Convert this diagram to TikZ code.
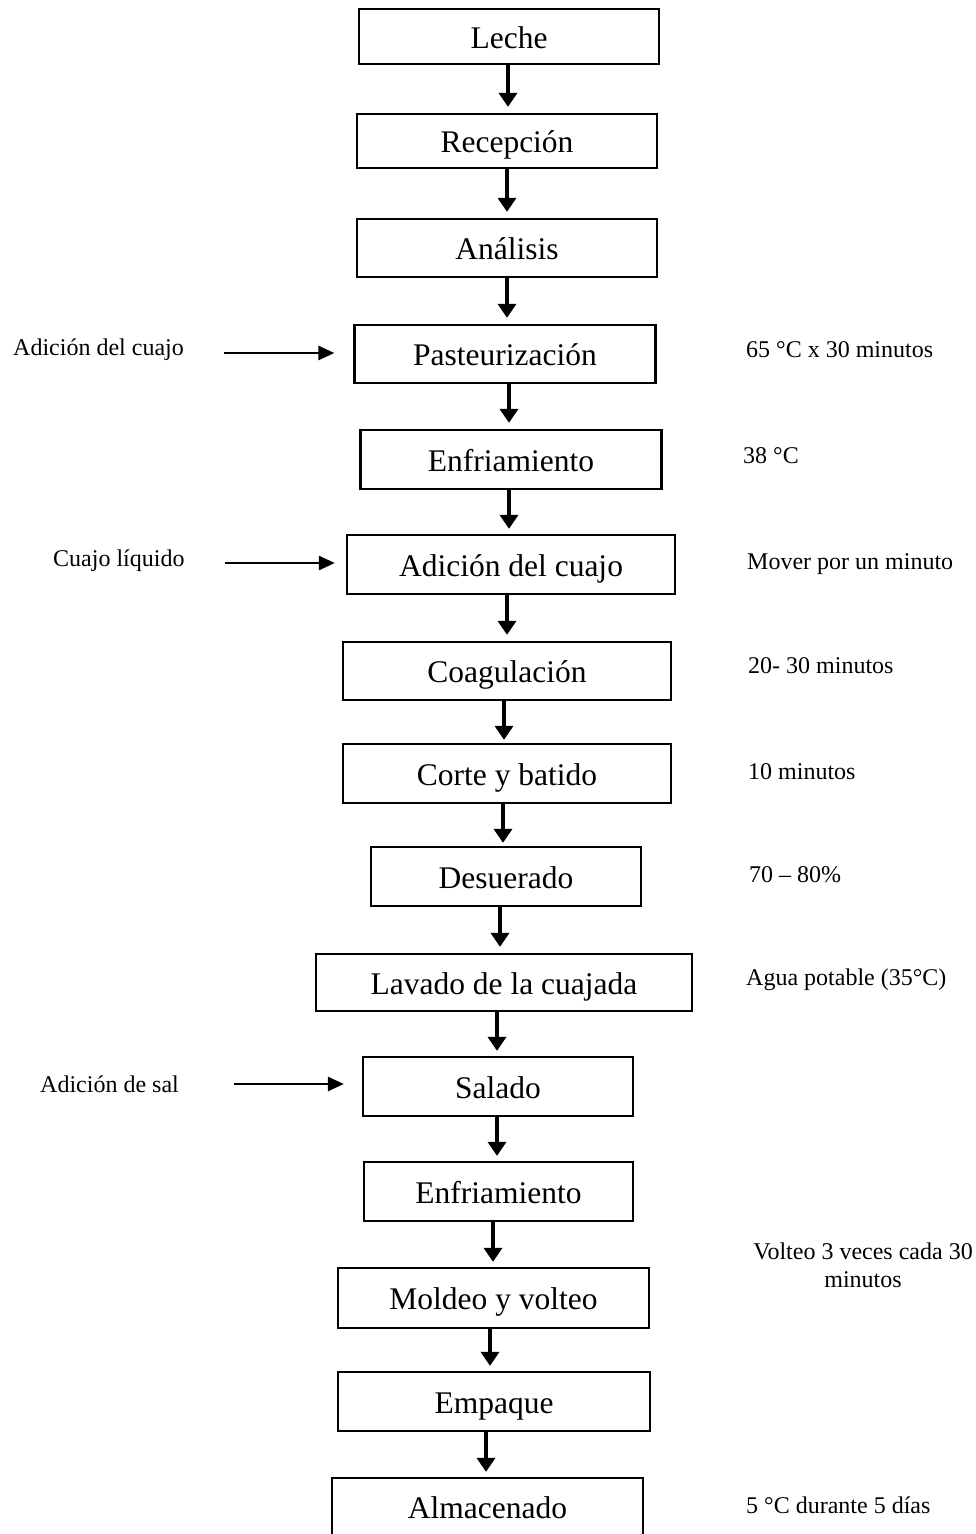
\documentclass[tikz,border=0pt]{standalone}
\usepackage{fontspec}
\setmainfont{Liberation Serif}
\usetikzlibrary{arrows.meta}
\tikzset{
  stepbox/.style={draw, line width=2.3pt, rectangle, inner sep=0pt, text height=25pt, text depth=2pt,
    font=\fontsize{31.5}{36}\selectfont},
  sidetext/.style={inner sep=0pt, anchor=base west, font=\fontsize{24}{28}\selectfont},
  varr/.style={line width=4.3pt, -{Triangle[width=18pt,length=14pt]}},
  harr/.style={line width=2.8pt, -{Triangle[width=14pt,length=16pt]}}
}
\begin{document}
\begin{tikzpicture}[x=1pt,y=-1pt]
\useasboundingbox (0,0) rectangle (976,1534);
\clip (0,0) rectangle (976,1534);
% process boxes
\node[stepbox, minimum width=300pt, minimum height=55pt] (leche) at (509,36.5) {Leche};
\node[stepbox, minimum width=300pt, minimum height=54pt] (recep) at (507,141) {Recepción};
\node[stepbox, minimum width=300pt, minimum height=58pt] (anal) at (507,248) {Análisis};
\node[stepbox, minimum width=301pt, minimum height=58pt] (past) at (505,354) {Pasteurización};
\node[stepbox, minimum width=301pt, minimum height=59pt] (enfr) at (511,459.5) {Enfriamiento};
\node[stepbox, minimum width=328pt, minimum height=59pt] (adic) at (511,564.5) {Adición del cuajo};
\node[stepbox, minimum width=328pt, minimum height=58pt] (coag) at (507,671) {Coagulación};
\node[stepbox, minimum width=328pt, minimum height=59pt] (corte) at (507,773.5) {Corte y batido};
\node[stepbox, minimum width=270pt, minimum height=59pt] (desu) at (506,876.5) {Desuerado};
\node[stepbox, minimum width=376pt, minimum height=57pt] (lav) at (504,982.5) {Lavado de la cuajada};
\node[stepbox, minimum width=270pt, minimum height=59pt] (sal) at (498,1086.5) {Salado};
\node[stepbox, minimum width=269pt, minimum height=59pt] (enfb) at (498.5,1191.5) {Enfriamiento};
\node[stepbox, minimum width=311pt, minimum height=60pt] (mold) at (493.5,1298) {Moldeo y volteo};
\node[stepbox, minimum width=312pt, minimum height=59pt] (emp) at (494,1401.5) {Empaque};
\node[stepbox, minimum width=311pt, minimum height=58pt] (alm) at (487.5,1507) {Almacenado};
% side texts
\node[sidetext] (in1) at (13,355) {Adición del cuajo};
\node[sidetext] (in2) at (53,566) {Cuajo líquido};
\node[sidetext] (in3) at (40,1092) {Adición de sal};
\node[sidetext] (n1) at (746,357) {65 °C x 30 minutos};
\node[sidetext] (n2) at (743,463) {38 °C};
\node[sidetext] (n3) at (747,569) {Mover por un minuto};
\node[sidetext] (n4) at (748,673) {20- 30 minutos};
\node[sidetext] (n5) at (748,779) {10 minutos};
\node[sidetext] (n6) at (749,882) {70 – 80\%};
\node[sidetext] (n7) at (746,985) {Agua potable (35°C)};
\node[inner sep=0pt, anchor=base, align=center, font=\fontsize{24}{28}\selectfont] (n8) at (863,1287) {Volteo 3 veces cada 30\\minutos};
\node[sidetext] (n9) at (746,1513) {5 °C durante 5 días};
% vertical arrows
\draw[varr] ([xshift=-1pt]leche.south) -- ([xshift=1pt,yshift=6pt]recep.north);
\draw[varr] ([xshift=0pt]recep.south) -- ([xshift=0pt,yshift=6pt]anal.north);
\draw[varr] ([xshift=0pt]anal.south) -- ([xshift=2pt,yshift=6pt]past.north);
\draw[varr] ([xshift=4pt]past.south) -- ([xshift=-2pt,yshift=6pt]enfr.north);
\draw[varr] ([xshift=-2pt]enfr.south) -- ([xshift=-2pt,yshift=5pt]adic.north);
\draw[varr] ([xshift=-4pt]adic.south) -- ([xshift=0pt,yshift=6pt]coag.north);
\draw[varr] ([xshift=-3pt]coag.south) -- ([xshift=-3pt,yshift=3pt]corte.north);
\draw[varr] ([xshift=-4pt]corte.south) -- ([xshift=-3pt,yshift=3pt]desu.north);
\draw[varr] ([xshift=-6pt]desu.south) -- ([xshift=-4pt,yshift=6pt]lav.north);
\draw[varr] ([xshift=-7pt]lav.south) -- ([xshift=-1pt,yshift=5pt]sal.north);
\draw[varr] ([xshift=-1pt]sal.south) -- ([xshift=-1.5pt,yshift=5pt]enfb.north);
\draw[varr] ([xshift=-5.5pt]enfb.south) -- ([xshift=-0.5pt,yshift=5pt]mold.north);
\draw[varr] ([xshift=-3.5pt]mold.south) -- ([xshift=-4pt,yshift=5pt]emp.north);
\draw[varr] ([xshift=-8pt]emp.south) -- ([xshift=-1.5pt,yshift=5pt]alm.north);
% input arrows
\draw[harr] ([xshift=-129pt,yshift=1pt]past.west) -- ([xshift=-19pt,yshift=1pt]past.west);
\draw[harr] ([xshift=-121pt,yshift=1.5pt]adic.west) -- ([xshift=-11pt,yshift=1.5pt]adic.west);
\draw[harr] ([xshift=-128pt,yshift=2.5pt]sal.west) -- ([xshift=-18pt,yshift=2.5pt]sal.west);
\end{tikzpicture}
\end{document}
